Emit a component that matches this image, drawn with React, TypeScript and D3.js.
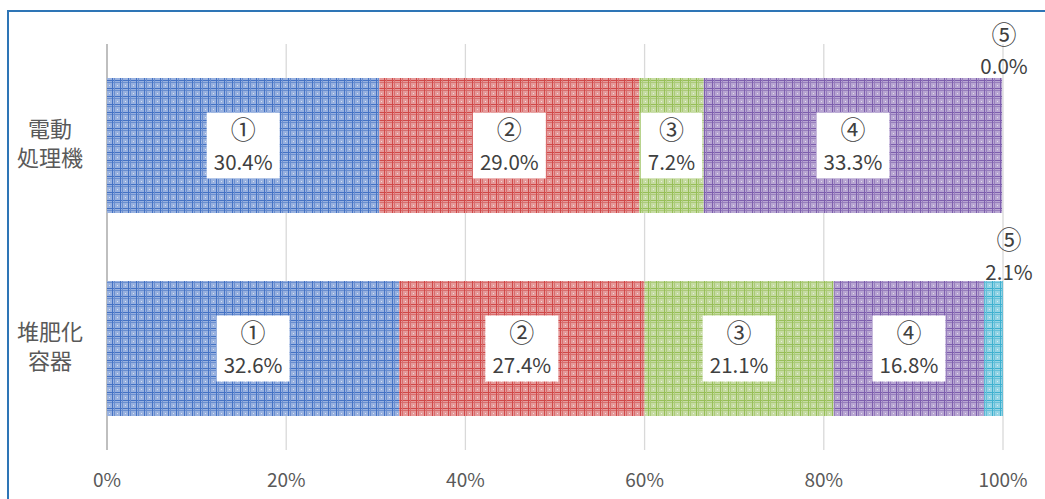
import { useMemo } from 'react'
import { scaleBand, scaleLinear, stack, interpolateRgb } from 'd3'

let categories = ['電動\n処理機', '堆肥化\n容器']
let keys = ['①', '②', '③', '④', '⑤']
let seriesA = [30.4, 29.0, 7.2, 33.3, 0.0] // 電動処理機
let seriesB = [32.6, 27.4, 21.1, 16.8, 2.1] // 堆肥化容器
let ticks = [0, 20, 40, 60, 80, 100]
let colors = ['#4472C4', '#D04848', '#97BE58', '#7D5EAD', '#3EB0CF']

const W = 1045
const H = 499
const FONT = '"Noto Sans CJK JP", "Noto Sans", sans-serif'

let App = () => {
    let rows = useMemo(() => [seriesA, seriesB].map((vals, i) => {
        let r: any = { cat: categories[i] }
        keys.forEach((k, j) => { r[k] = vals[j] })
        return r
    }), [])

    let stacked = stack().keys(keys)(rows)

    let xScale = scaleLinear().domain([0, 100]).range([107, 1003])
    let yScale = scaleBand().domain(categories).range([44, 450]).paddingInner(0.335).paddingOuter(0.1675)

    let textW = (s: string) => s.length * 11.4

    return (
        <svg width={W} height={H} style={{ display: 'block', position: 'absolute', left: 0, top: 0 }}>
            <defs>
                {colors.map((c, i) => {
                    let light = interpolateRgb(c, '#ffffff')(0.45)
                    let mid = interpolateRgb(c, '#ffffff')(0.2)
                    return (
                        <pattern key={i} id={'pat' + i} width={8} height={8} patternUnits="userSpaceOnUse">
                            <rect width={8} height={8} fill={light} />
                            <rect x={0} y={0} width={8} height={1} fill={c} />
                            <rect x={0} y={2} width={8} height={1} fill={mid} />
                            <rect x={0} y={0} width={1} height={8} fill={c} />
                            <rect x={2} y={0} width={1} height={8} fill={mid} />
                            <rect x={5} y={5} width={1} height={1} fill="#ffffff" opacity={0.6} />
                        </pattern>
                    )
                })}
            </defs>
            <rect x={0} y={0} width={W} height={H} fill="#fff" />
            <rect x={8} y={11} width={W} height={H} fill="none" stroke="#2E75B6" strokeWidth={2} />

            {ticks.map(t => (
                <g key={t}>
                    <line x1={xScale(t)} x2={xScale(t)} y1={44} y2={450}
                        stroke={t === 0 ? '#BFBFBF' : '#D9D9D9'} strokeWidth={t === 0 ? 2 : 1.3} />
                    <text x={xScale(t)} y={487} textAnchor="middle" fontSize={19}
                        fontFamily={FONT} fill="#595959">{t}%</text>
                </g>
            ))}

            {categories.map(c => {
                let lines = c.split('\n')
                let cy = yScale(c)! + yScale.bandwidth() / 2
                return (
                    <text key={c} x={50} textAnchor="middle" fontSize={22} fontFamily={FONT} fill="#595959">
                        {lines.map((l, i) => (
                            <tspan key={i} x={50} y={cy + 6 + (i - (lines.length - 1) / 2) * 29}>{l}</tspan>
                        ))}
                    </text>
                )
            })}

            {stacked.map((s, si) => s.map((d: any, di) => {
                let cat = categories[di]
                let x0 = xScale(d[0])
                let x1 = xScale(d[1])
                let y = yScale(cat)!
                let h = yScale.bandwidth()
                let val = d[1] - d[0]
                let label = val.toFixed(1) + '%'
                let inside = val >= 5
                let bw = textW(label) + 16
                let cx = (x0 + x1) / 2
                let cy = y + h / 2
                let ox = xScale(100) + (val > 0 ? 6 : 1)
                return (
                    <g key={si + '-' + di}>
                        {x1 - x0 > 0 && <rect x={x0} y={y} width={x1 - x0} height={h} fill={`url(#pat${si})`} />}
                        {inside ? (
                            <g>
                                <rect x={cx - bw / 2} y={cy - 33} width={bw} height={66} fill="#fff" />
                                <text x={cx} y={cy - 7} textAnchor="middle" fontSize={25} fontFamily={FONT} fill="#404040">{keys[si]}</text>
                                <text x={cx} y={cy + 24} textAnchor="middle" fontSize={20.5} fontFamily={FONT} fill="#404040">{label}</text>
                            </g>
                        ) : (
                            <g>
                                <text x={ox} y={y - (val > 0 ? 32 : 34)} textAnchor="middle" fontSize={25} fontFamily={FONT} fill="#404040">{keys[si]}</text>
                                <text x={ox} y={y - (val > 0 ? 1 : 4)} textAnchor="middle" fontSize={20.5} fontFamily={FONT} fill="#404040">{label}</text>
                            </g>
                        )}
                    </g>
                )
            }))}
        </svg>
    )
}

export default App
